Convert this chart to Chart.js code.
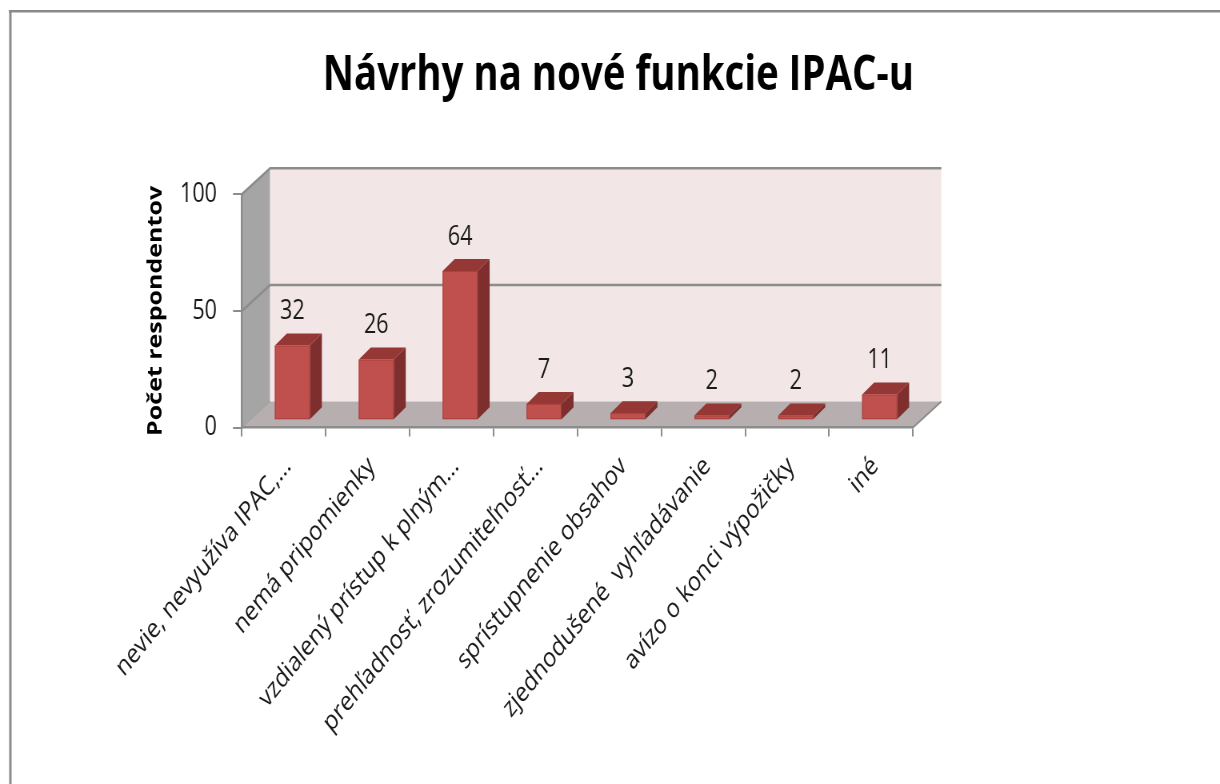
<!DOCTYPE html>
<html>
<head>
<meta charset="utf-8">
<title>Návrhy na nové funkcie IPAC-u</title>
<script src="https://cdn.jsdelivr.net/npm/chart.js@4/dist/chart.umd.min.js"></script>
<style>
  html, body { margin: 0; padding: 0; background: #fff; overflow: hidden; }
</style>
</head>
<body>
<!-- the original picture is squeezed horizontally, so the canvas is drawn wider and shown at 1220px -->
<canvas id="chart" width="1525" height="784" style="display:block;width:1220px;height:784px"></canvas>
<script>
const chartTitle = 'Návrhy na nové funkcie IPAC-u';
const axisTitle = 'Počet respondentov';
const categories = [
    'nevie, nevyužíva IPAC,…',
    'nemá pripomienky',
    'vzdialený prístup k plným…',
    'prehľadnosť, zrozumiteľnosť…',
    'sprístupnenie obsahov',
    'zjednodušené  vyhľadávanie',
    'avízo o konci výpožičky',
    'iné'
];
const respondents = [32, 26, 64, 7, 3, 2, 2, 11];
const yTicks = [0, 50, 100];

// 3D look
const DX = 35.4, DY = -26;          // depth of walls
const FX = 10.75, FY = -7.3;        // where bar fronts sit inside the depth
const BX = 15, BY = -12;            // depth of a bar
const gridColor = '#8c8c8c';
const titleCenterX = 773;           // the title is not centred on the plot

Chart.defaults.font.family = "'Open Sans', sans-serif";

const wallsPlugin = {
    id: 'walls',
    afterLayout(chart) {
        const tb = chart.titleBlock;
        if (!tb) return;
        const shift = titleCenterX - (tb.left + tb.right) / 2;
        tb.left += shift;
        tb.right += shift;
    },
    beforeDraw(chart) {
        const { ctx, chartArea: a, scales: { y } } = chart;
        const x0 = a.left, x1 = a.right;
        const yb = y.getPixelForValue(yTicks[0]);
        const yt = y.getPixelForValue(yTicks[yTicks.length - 1]);
        ctx.save();

        // outer frame (top and left only)
        ctx.strokeStyle = '#8a8a8a';
        ctx.lineWidth = 2.5;
        ctx.beginPath();
        ctx.moveTo(11, 11.3);
        ctx.lineTo(chart.width, 11.3);
        ctx.stroke();
        ctx.lineWidth = 3;
        ctx.beginPath();
        ctx.moveTo(13, 10);
        ctx.lineTo(13, chart.height);
        ctx.stroke();

        // side wall
        ctx.fillStyle = '#a5a5a5';
        ctx.beginPath();
        ctx.moveTo(x0, yt);
        ctx.lineTo(x0 + DX, yt + DY);
        ctx.lineTo(x0 + DX, yb + DY);
        ctx.lineTo(x0, yb);
        ctx.closePath();
        ctx.fill();

        // back wall
        ctx.fillStyle = '#f2e6e6';
        ctx.fillRect(x0 + DX, yt + DY, x1 - x0, yb - yt);

        // floor
        ctx.fillStyle = '#b7afaf';
        ctx.beginPath();
        ctx.moveTo(x0, yb);
        ctx.lineTo(x1, yb);
        ctx.lineTo(x1 + DX, yb + DY);
        ctx.lineTo(x0 + DX, yb + DY);
        ctx.closePath();
        ctx.fill();

        // gridlines on side and back wall
        ctx.strokeStyle = gridColor;
        ctx.lineWidth = 2.5;
        yTicks.slice(1).forEach(v => {
            const py = y.getPixelForValue(v);
            ctx.beginPath();
            ctx.moveTo(x0, py);
            ctx.lineTo(x0 + DX, py + DY);
            ctx.lineTo(x1 + DX, py + DY);
            ctx.stroke();
        });

        // floor edges
        ctx.lineWidth = 2;
        ctx.beginPath();
        ctx.moveTo(x1, yb);
        ctx.lineTo(x1 + DX, yb + DY);
        ctx.stroke();
        ctx.strokeStyle = '#9a9a9a';
        ctx.lineWidth = 1;
        ctx.beginPath();
        ctx.moveTo(x0, yb);
        ctx.lineTo(x0 + DX, yb + DY);
        ctx.stroke();
        ctx.restore();
    }
};

const barsPlugin = {
    id: 'bars3d',
    afterDatasetsDraw(chart) {
        const { ctx } = chart;
        const meta = chart.getDatasetMeta(0);
        ctx.save();
        meta.data.forEach((bar, i) => {
            const p = bar.getProps(['x', 'y', 'base', 'width'], true);
            const l = p.x - p.width / 2 + FX, r = l + p.width;
            const t = p.y + FY, b = p.base + FY;

            // side
            ctx.fillStyle = '#7e2f2d';
            ctx.beginPath();
            ctx.moveTo(r, t);
            ctx.lineTo(r + BX, t + BY);
            ctx.lineTo(r + BX, b + BY);
            ctx.lineTo(r, b);
            ctx.closePath();
            ctx.fill();

            // top
            ctx.fillStyle = '#953735';
            ctx.beginPath();
            ctx.moveTo(l, t);
            ctx.lineTo(l + BX, t + BY);
            ctx.lineTo(r + BX, t + BY);
            ctx.lineTo(r, t);
            ctx.closePath();
            ctx.fill();

            // front
            ctx.fillStyle = '#c0504d';
            ctx.fillRect(l, t, p.width, b - t);
            ctx.strokeStyle = '#a9403d';
            ctx.lineWidth = 1;
            ctx.strokeRect(l + 0.5, t + 0.5, p.width - 1, b - t - 1);

            // value label
            ctx.fillStyle = '#1a1a1a';
            ctx.font = "27px 'Open Sans', sans-serif";
            ctx.textAlign = 'center';
            ctx.textBaseline = 'middle';
            ctx.fillText(String(respondents[i]), p.x + FX, t - 34);
        });
        ctx.restore();
    }
};

new Chart(document.getElementById('chart'), {
    type: 'bar',
    data: {
        labels: categories,
        datasets: [{
            label: axisTitle,
            data: respondents,
            backgroundColor: 'rgba(0,0,0,0)',
            borderWidth: 0,
            barPercentage: 0.417,
            categoryPercentage: 1
        }]
    },
    options: {
        responsive: false,
        animation: false,
        devicePixelRatio: 1,
        layout: {
            padding: { left: 176, right: 383.75, top: 30, bottom: 0 }
        },
        scales: {
            x: {
                afterFit(scale) { scale.height = 356.5; },
                grid: {
                    drawOnChartArea: false,
                    color: gridColor,
                    lineWidth: 2,
                    tickLength: 9
                },
                border: { display: true, color: gridColor, width: 2.5 },
                ticks: {
                    autoSkip: false,
                    minRotation: 45,
                    maxRotation: 45,
                    padding: 14,
                    labelOffset: 5,
                    color: '#1a1a1a',
                    font: { size: 27 }
                }
            },
            y: {
                min: 0,
                max: 100,
                afterFit(scale) { scale.width = 126.3; },
                afterBuildTicks(scale) { scale.ticks = yTicks.map(v => ({ value: v })); },
                grid: {
                    drawOnChartArea: false,
                    color: gridColor,
                    lineWidth: 2,
                    tickLength: 11
                },
                border: { display: true, color: gridColor, width: 2.5 },
                ticks: {
                    padding: 20,
                    color: '#1a1a1a',
                    font: { size: 27 }
                },
                title: {
                    display: true,
                    text: axisTitle,
                    color: '#000',
                    font: { size: 25, weight: 'bold' }
                }
            }
        },
        plugins: {
            legend: { display: false },
            tooltip: { enabled: false },
            title: {
                display: true,
                text: chartTitle,
                color: '#000',
                font: { size: 48, weight: 'bold' },
                padding: { top: 18, bottom: 88.7 }
            }
        }
    },
    plugins: [wallsPlugin, barsPlugin]
});
</script>
</body>
</html>
